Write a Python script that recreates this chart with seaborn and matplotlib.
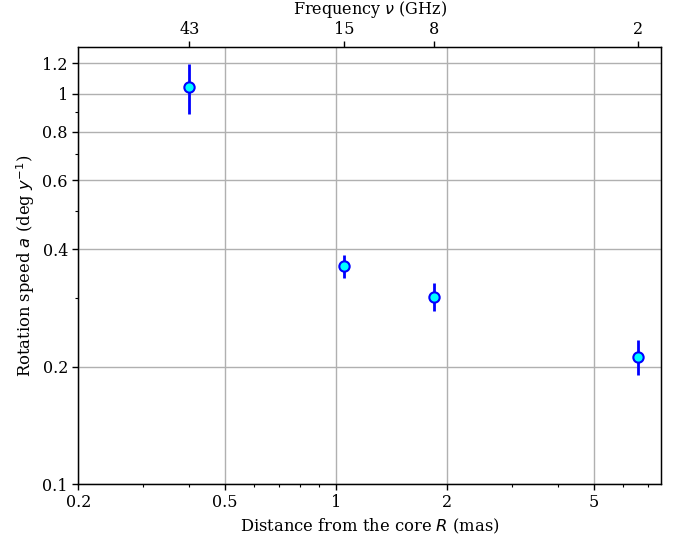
import matplotlib
matplotlib.use("Agg")
import matplotlib.pyplot as plt
import seaborn as sns
import pandas as pd
from matplotlib.ticker import FixedLocator, NullFormatter

distance = [0.40, 1.05, 1.845, 6.59]
speed = [1.04, 0.362, 0.302, 0.212]
speed_err = [0.15, 0.025, 0.025, 0.022]
freq_labels = ["43", "15", "8", "2"]

x_ticks = [0.2, 0.5, 1, 2, 5]
x_tick_labels = ["0.2", "0.5", "1", "2", "5"]
y_ticks = [0.1, 0.2, 0.4, 0.6, 0.8, 1, 1.2]
y_tick_labels = ["0.1", "0.2", "0.4", "0.6", "0.8", "1", "1.2"]

df = pd.DataFrame({"R": distance, "a": speed, "err": speed_err})

sns.set_style("ticks", {"text.color": "black", "axes.labelcolor": "black",
                        "xtick.color": "black", "ytick.color": "black",
                        "axes.edgecolor": "black"})
plt.rcParams["font.family"] = ["DejaVu Serif"]
plt.rcParams["mathtext.fontset"] = "dejavusans"

fig, ax = plt.subplots(figsize=(6.81, 5.39), dpi=100)
fig.subplots_adjust(left=0.115, right=0.971, bottom=0.102, top=0.913)

ax.set_xscale("log")
ax.set_yscale("log")
ax.errorbar(df["R"], df["a"], yerr=df["err"], fmt="none", ecolor="blue",
            elinewidth=2, capsize=0, zorder=3)
sns.scatterplot(data=df, x="R", y="a", ax=ax, s=55, color="cyan",
                edgecolor="blue", linewidth=1.5, zorder=4)

ax.set_xlim(0.2, 7.6)
ax.set_ylim(0.1, 1.32)

ax.xaxis.set_major_locator(FixedLocator(x_ticks))
ax.set_xticklabels(x_tick_labels)
ax.xaxis.set_minor_formatter(NullFormatter())
ax.yaxis.set_major_locator(FixedLocator(y_ticks))
ax.set_yticklabels(y_tick_labels)
ax.yaxis.set_minor_locator(FixedLocator([0.3, 0.5, 0.7, 0.9]))
ax.yaxis.set_minor_formatter(NullFormatter())

ax.grid(True, which="major", color="#b0b0b0", linewidth=1.0)
ax.tick_params(axis="both", which="major", labelsize=11.5, length=4, width=1,
               colors="black")
ax.tick_params(axis="both", which="minor", length=2.5, width=0.8, colors="black")
for s in ax.spines.values():
    s.set_linewidth(1.0)
    s.set_color("black")

ax.set_xlabel("Distance from the core $R$ (mas)", fontsize=11.8, color="black")
ax.set_ylabel("Rotation speed $a$ (deg $y^{-1}$)", fontsize=11.8, color="black")

ax2 = ax.twiny()
ax2.set_xscale("log")
ax2.set_xlim(ax.get_xlim())
ax2.xaxis.set_major_locator(FixedLocator(distance))
ax2.set_xticklabels(freq_labels)
ax2.xaxis.set_minor_locator(FixedLocator([]))
ax2.tick_params(axis="x", which="major", labelsize=11.5, length=4, width=1,
                colors="black", pad=2.5)
ax2.set_xlabel("Frequency $\\nu$ (GHz)", fontsize=11.5, labelpad=5, color="black")
for s in ax2.spines.values():
    s.set_color("black")

fig.savefig("out.png", dpi=100)
